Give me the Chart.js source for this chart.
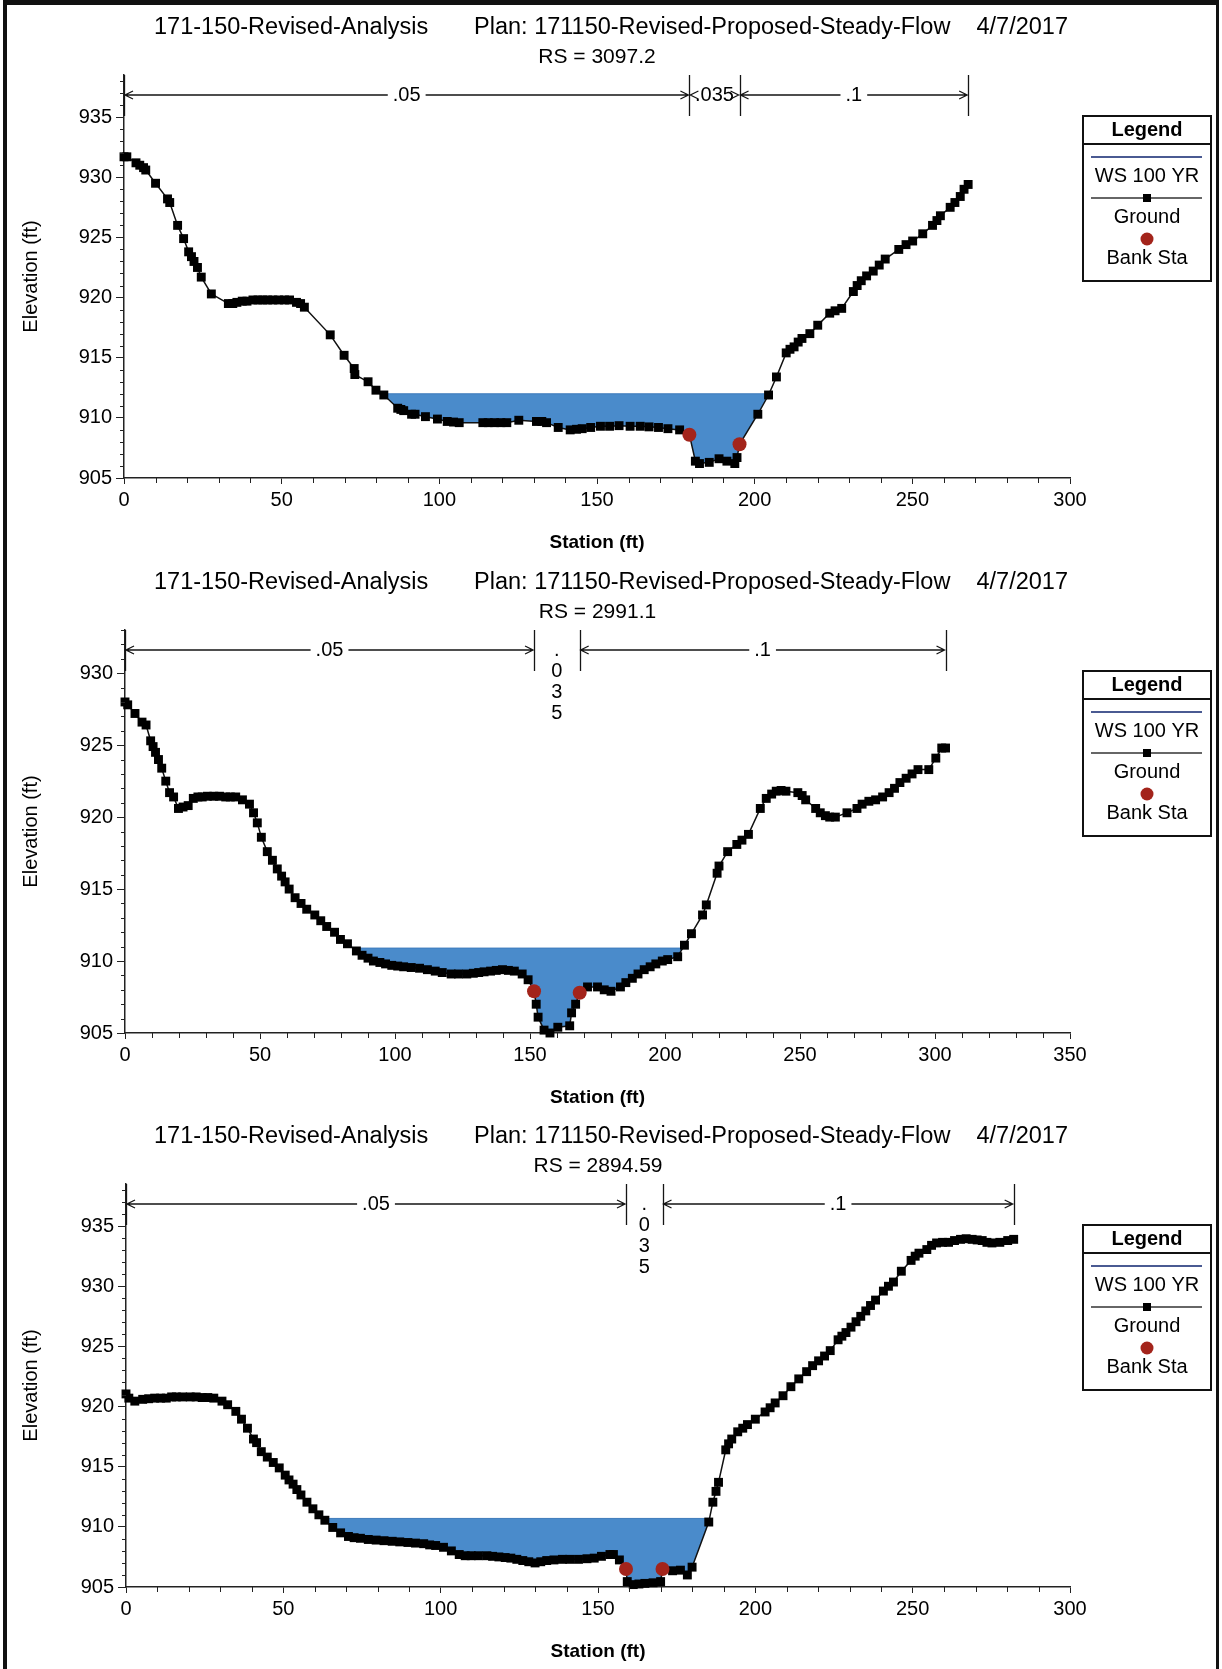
<!DOCTYPE html>
<html>
<head>
<meta charset="utf-8">
<script src="https://cdn.jsdelivr.net/npm/chart.js@4.4.1/dist/chart.umd.min.js"></script>
<style>
  body { margin: 0; background: #fff; }
  #page { position: relative; width: 1222px; height: 1669px; overflow: hidden; background: #fff; }
  #page canvas { position: absolute; left: 0; }
  #frame { position: absolute; left: 3px; top: 0; width: 1209px; height: 1700px;
           border-left: 4px solid #111; border-top: 5px solid #111; border-right: 3px solid #111;
           pointer-events: none; }
</style>
</head>
<body>
<div id="page">
  <canvas id="xs1" width="1222" height="555" style="top:0px"></canvas>
  <canvas id="xs2" width="1222" height="555" style="top:555px"></canvas>
  <canvas id="xs3" width="1222" height="555" style="top:1109px"></canvas>
  <div id="frame"></div>
</div>
<script>
const project = '171-150-Revised-Analysis';
const plan = 'Plan: 171150-Revised-Proposed-Steady-Flow';
const runDate = '4/7/2017';

const riverSta = ['3097.2', '2991.1', '2894.59'];
const wsElev = [912.0, 910.9, 910.7];       // WS 100 YR
const nValues = [0.05, 0.035, 0.1];         // left overbank, channel, right overbank
const xMax = [300, 350, 300];
const yMax = [938.5, 933, 938.5];

// station (ft), elevation (ft)
const ground1 = [
  [0, 931.7], [0.9, 931.7], [3.8, 931.2], [5.0, 931.0], [6.2, 930.8], [6.9, 930.6], [10.0, 929.5],
  [13.8, 928.2], [14.5, 927.9], [17.0, 926.0], [18.9, 924.9], [20.5, 923.8], [21.4, 923.4], [22.2, 923.0],
  [23.3, 922.5], [24.5, 921.7], [27.7, 920.3], [33.1, 919.5], [34.5, 919.5], [35.8, 919.6], [37.5, 919.7],
  [39.0, 919.7], [40.9, 919.8], [42.5, 919.8], [44.0, 919.8], [45.5, 919.8], [47.2, 919.8], [49.0, 919.8],
  [50.9, 919.8], [52.5, 919.8], [54.7, 919.6], [56.0, 919.5], [57.2, 919.2], [65.4, 916.9], [69.8, 915.2],
  [73.0, 914.1], [73.2, 913.6], [77.4, 913.0], [79.9, 912.3], [82.4, 911.9], [86.8, 910.8], [87.8, 910.7],
  [88.7, 910.6], [91.2, 910.3], [92.3, 910.3], [95.6, 910.1], [99.4, 909.9], [102.5, 909.7], [104.5, 909.65],
  [106.3, 909.6], [113.8, 909.6], [115.5, 909.6], [117.5, 909.6], [119.5, 909.6], [121.4, 909.6],
  [125.2, 909.8], [130.8, 909.7], [132.5, 909.7], [134.0, 909.6], [137.7, 909.2], [141.5, 909.0],
  [143.5, 909.05], [145.3, 909.1], [148.0, 909.2], [151.1, 909.3], [154.0, 909.3], [157.0, 909.35],
  [160.5, 909.3], [163.7, 909.3], [166.5, 909.25], [169.5, 909.2], [172.5, 909.1], [176.2, 909.0],
  [179.3, 908.6], [181.2, 906.4], [182.5, 906.2], [185.6, 906.3], [188.7, 906.6], [191.2, 906.4],
  [193.7, 906.2], [194.4, 906.7], [195.2, 907.8], [201.0, 910.3], [204.4, 911.9], [206.9, 913.4],
  [210.0, 915.4], [211.2, 915.7], [212.5, 915.9], [213.8, 916.3], [215.0, 916.6], [217.5, 917.0],
  [220.0, 917.7], [223.8, 918.7], [225.5, 918.9], [227.6, 919.1], [231.3, 920.5], [232.5, 921.0],
  [233.8, 921.4], [235.5, 921.8], [237.6, 922.2], [239.5, 922.7], [241.4, 923.2], [245.7, 924.0],
  [248.0, 924.4], [250.1, 924.7], [253.3, 925.3], [256.4, 926.0], [257.8, 926.4], [258.9, 926.8],
  [262.0, 927.5], [263.5, 927.9], [265.2, 928.4], [266.4, 929.0], [267.7, 929.4]
];
const bank1 = [[179.3, 908.6], [195.2, 907.8]];

const ground2 = [
  [0, 928.0], [1.0, 927.8], [3.7, 927.2], [6.3, 926.6], [7.8, 926.4], [9.5, 925.3], [10.4, 924.9],
  [11.3, 924.5], [12.4, 924.0], [13.6, 923.4], [15.1, 922.5], [16.5, 921.7], [18.0, 921.4], [19.8, 920.6],
  [21.5, 920.7], [23.4, 920.8], [25.3, 921.3], [27.0, 921.4], [28.6, 921.4], [30.5, 921.45], [32.9, 921.45],
  [35.0, 921.45], [37.3, 921.4], [39.0, 921.4], [41.0, 921.4], [43.5, 921.2], [46.1, 920.9], [47.6, 920.3],
  [49.0, 919.6], [50.5, 918.6], [52.7, 917.6], [54.6, 917.0], [56.4, 916.4], [58.0, 915.9], [59.3, 915.5],
  [60.8, 915.0], [63.0, 914.4], [65.2, 914.0], [67.3, 913.6], [70.3, 913.2], [72.5, 912.8], [74.7, 912.4],
  [77.6, 912.0], [79.8, 911.5], [82.4, 911.2], [85.7, 910.7], [87.8, 910.4], [90.0, 910.2], [92.0, 910.0],
  [94.4, 909.9], [96.5, 909.8], [98.8, 909.7], [101.0, 909.65], [103.2, 909.6], [106.0, 909.55],
  [109.1, 909.5], [112.0, 909.4], [114.9, 909.3], [117.5, 909.2], [120.8, 909.1], [123.5, 909.1],
  [126.6, 909.1], [129.0, 909.15], [131.0, 909.2], [133.0, 909.25], [135.4, 909.3], [137.5, 909.35],
  [139.8, 909.4], [142.0, 909.35], [144.2, 909.3], [147.1, 909.1], [149.3, 908.7], [151.5, 907.9],
  [152.3, 907.0], [153.0, 906.1], [155.2, 905.2], [157.4, 905.0], [160.3, 905.4], [164.7, 905.5],
  [165.4, 906.4], [166.9, 907.0], [168.4, 907.8], [171.3, 908.2], [175.0, 908.2], [177.5, 908.0],
  [180.0, 907.9], [183.5, 908.2], [185.5, 908.5], [187.9, 908.8], [190.0, 909.1], [192.3, 909.4],
  [194.5, 909.6], [196.6, 909.8], [199.0, 910.0], [201.0, 910.1], [204.7, 910.3], [207.2, 911.1],
  [209.8, 911.9], [213.9, 913.2], [215.3, 913.9], [219.3, 916.1], [220.0, 916.6], [223.2, 917.6],
  [226.6, 918.1], [228.5, 918.4], [230.9, 918.8], [235.3, 920.6], [237.5, 921.3], [239.5, 921.6],
  [241.2, 921.8], [243.0, 921.85], [244.8, 921.8], [249.2, 921.7], [250.8, 921.5], [252.1, 921.2],
  [255.8, 920.6], [257.5, 920.3], [259.4, 920.1], [261.0, 920.0], [263.1, 920.0], [267.4, 920.3],
  [271.1, 920.6], [273.0, 920.9], [275.5, 921.1], [278.0, 921.2], [280.6, 921.4], [283.0, 921.7],
  [285.0, 922.0], [287.0, 922.4], [289.3, 922.7], [291.5, 923.0], [293.7, 923.3], [297.7, 923.3],
  [300.3, 924.1], [302.5, 924.8], [303.9, 924.8]
];
const bank2 = [[151.5, 907.9], [168.4, 907.8]];

const ground3 = [
  [0, 921.05], [0.9, 920.7], [2.8, 920.45], [5.3, 920.6], [7.2, 920.65], [9.1, 920.7], [11.0, 920.7],
  [12.8, 920.7], [14.5, 920.8], [16.0, 920.8], [18.0, 920.8], [20.4, 920.8], [22.3, 920.8], [24.2, 920.75],
  [26.0, 920.75], [27.9, 920.7], [30.5, 920.45], [32.3, 920.15], [34.9, 919.6], [36.7, 918.95],
  [38.6, 918.2], [40.5, 917.3], [41.5, 917.0], [43.0, 916.25], [44.9, 915.8], [46.8, 915.35],
  [48.7, 914.9], [50.6, 914.3], [51.8, 913.9], [53.1, 913.55], [54.3, 913.1], [55.6, 912.65],
  [57.5, 912.05], [59.4, 911.5], [61.3, 911.0], [63.2, 910.55], [65.7, 909.95], [68.2, 909.5],
  [70.7, 909.2], [72.5, 909.1], [74.5, 909.05], [77.0, 908.95], [79.5, 908.9], [82.0, 908.85],
  [84.6, 908.8], [87.0, 908.75], [89.6, 908.7], [92.0, 908.65], [94.6, 908.6], [96.5, 908.5],
  [98.4, 908.45], [100.9, 908.3], [103.4, 908.0], [105.9, 907.7], [107.8, 907.6], [109.7, 907.6],
  [112.0, 907.6], [114.7, 907.6], [116.5, 907.55], [118.5, 907.5], [120.5, 907.45], [122.3, 907.4],
  [124.2, 907.3], [126.1, 907.2], [128.0, 907.1], [130.0, 907.0], [131.8, 907.1], [133.7, 907.2],
  [136.0, 907.25], [138.7, 907.3], [141.0, 907.3], [143.8, 907.3], [146.5, 907.35], [148.8, 907.4],
  [151.1, 907.55], [153.8, 907.7], [154.9, 907.7], [156.8, 907.25], [158.9, 906.5], [159.3, 905.45],
  [161.2, 905.2], [163.0, 905.25], [164.9, 905.3], [167.5, 905.35], [169.9, 905.45], [170.5, 906.5],
  [173.7, 906.35], [176.2, 906.4], [178.4, 906.0], [179.9, 906.65], [185.2, 910.4], [186.5, 912.05],
  [187.5, 912.95], [188.3, 913.7], [190.6, 916.4], [191.5, 916.9], [192.5, 917.3], [194.4, 917.9],
  [196.0, 918.2], [197.5, 918.5], [200.0, 918.95], [203.1, 919.55], [204.7, 919.9], [206.3, 920.3],
  [208.8, 920.9], [211.3, 921.65], [213.8, 922.3], [216.3, 922.9], [218.2, 923.4], [220.1, 923.8],
  [222.0, 924.2], [223.8, 924.65], [226.3, 925.55], [227.5, 925.85], [228.8, 926.15], [230.4, 926.6],
  [232.0, 927.05], [233.5, 927.5], [235.1, 927.95], [236.6, 928.4], [238.2, 928.85], [240.7, 929.6],
  [242.3, 930.0], [243.9, 930.35], [246.4, 931.25], [249.5, 932.15], [250.8, 932.5], [252.0, 932.75],
  [254.5, 933.05], [256.0, 933.4], [257.6, 933.6], [259.5, 933.65], [261.4, 933.65], [263.3, 933.8],
  [265.2, 933.9], [267.0, 933.95], [268.9, 933.9], [270.5, 933.85], [272.1, 933.8], [273.6, 933.65],
  [275.2, 933.6], [277.7, 933.65], [280.2, 933.8], [282.1, 933.9]
];
const bank3 = [[158.9, 906.5], [170.5, 906.5]];

const FONT = "'Liberation Sans', Arial, Helvetica, sans-serif";
Chart.defaults.font.family = FONT;
Chart.defaults.color = '#000';

// where the water surface meets the ground on each side of the channel
function wsLimits(ground, banks, ws) {
  let i = ground.findIndex(p => p[0] >= banks[0][0]);
  while (i > 0 && ground[i - 1][1] < ws) i--;
  const a = ground[i - 1], b = ground[i];
  const xl = a[0] + (ws - a[1]) * (b[0] - a[0]) / (b[1] - a[1]);
  let j = ground.findIndex(p => p[0] >= banks[1][0]);
  while (j < ground.length - 1 && ground[j + 1][1] < ws) j++;
  const c = ground[j], d = ground[j + 1];
  const xr = c[0] + (ws - c[1]) * (d[0] - c[0]) / (d[1] - c[1]);
  return [xl, xr];
}

// RS line, minor ticks, manning's n bar and the boxed legend
const hecPlugin = {
  id: 'hec',
  afterDraw(chart, args, opts) {
    const ctx = chart.ctx;
    const {top, bottom, left, right} = chart.chartArea;
    const xs = chart.scales.x, ys = chart.scales.y;
    ctx.save();

    ctx.fillStyle = '#000';
    ctx.textAlign = 'center';
    ctx.textBaseline = 'middle';
    ctx.font = '21px ' + FONT;
    ctx.fillText('RS = ' + opts.rs, (left + right) / 2, top - 18);

    ctx.strokeStyle = '#222';
    ctx.lineWidth = 1;
    ctx.beginPath();
    for (let v = xs.min + 10; v < xs.max; v += 10) {
      if (v % 50 === 0) continue;
      const px = Math.round(xs.getPixelForValue(v)) + 0.5;
      ctx.moveTo(px, bottom);
      ctx.lineTo(px, bottom + 5);
    }
    for (let v = ys.min + 1; v <= ys.max; v += 1) {
      if (v % 5 === 0) continue;
      const py = Math.round(ys.getPixelForValue(v)) + 0.5;
      ctx.moveTo(left, py);
      ctx.lineTo(left - 4, py);
    }
    ctx.stroke();

    // n values
    const brk = opts.breaks;
    const ya = top + 20;
    ctx.strokeStyle = '#151515';
    ctx.lineWidth = 1.3;
    ctx.font = '20px ' + FONT;
    ctx.beginPath();
    brk.forEach(b => {
      const px = Math.round(xs.getPixelForValue(b)) + 0.5;
      ctx.moveTo(px, top);
      ctx.lineTo(px, top + 41);
    });
    ctx.stroke();
    for (let i = 0; i < brk.length - 1; i++) {
      const x0 = xs.getPixelForValue(brk[i]) + 1, x1 = xs.getPixelForValue(brk[i + 1]) - 1;
      const label = String(nValues[i]).replace(/^0/, '');
      const tw = ctx.measureText(label).width;
      const mid = (x0 + x1) / 2;
      if (x1 - x0 < tw + 8) {
        [...label].forEach((ch, k) => ctx.fillText(ch, mid, ya + k * 21));
        continue;
      }
      ctx.beginPath();
      if (x1 - x0 > tw + 30) {
        ctx.moveTo(x0, ya); ctx.lineTo(mid - tw / 2 - 5, ya);
        ctx.moveTo(mid + tw / 2 + 5, ya); ctx.lineTo(x1, ya);
      }
      ctx.moveTo(x0 + 8, ya - 4); ctx.lineTo(x0, ya); ctx.lineTo(x0 + 8, ya + 4);
      ctx.moveTo(x1 - 8, ya - 4); ctx.lineTo(x1, ya); ctx.lineTo(x1 - 8, ya + 4);
      ctx.stroke();
      ctx.fillText(label, mid, ya);
    }

    // legend box
    const ds = chart.data.datasets;
    const bx = 1083, bw = 128, by = top + 41, bh = 165, cx = bx + bw / 2;
    ctx.lineWidth = 2;
    ctx.strokeStyle = '#111';
    ctx.strokeRect(bx, by, bw, bh);
    ctx.beginPath();
    ctx.moveTo(bx, by + 28); ctx.lineTo(bx + bw, by + 28);
    ctx.stroke();
    ctx.font = 'bold 20px ' + FONT;
    ctx.fillText('Legend', cx, by + 14);
    ctx.font = '20px ' + FONT;

    ctx.strokeStyle = '#4a5a92';
    ctx.lineWidth = 2;
    ctx.beginPath(); ctx.moveTo(bx + 8, by + 41); ctx.lineTo(bx + bw - 9, by + 41); ctx.stroke();
    ctx.fillText(ds[1].label, cx, by + 60);

    ctx.strokeStyle = '#333';
    ctx.lineWidth = 1.3;
    ctx.beginPath(); ctx.moveTo(bx + 8, by + 82); ctx.lineTo(bx + bw - 9, by + 82); ctx.stroke();
    ctx.fillRect(cx - 4, by + 78, 8, 8);
    ctx.fillText(ds[0].label, cx, by + 101);

    ctx.fillStyle = ds[2].pointBackgroundColor;
    ctx.beginPath(); ctx.arc(cx, by + 123, 6.5, 0, Math.PI * 2); ctx.fill();
    ctx.fillStyle = '#000';
    ctx.fillText(ds[2].label, cx, by + 142);

    ctx.restore();
  }
};

function makeChart(id, k, ground, banks, axisLeft) {
  const ws = wsElev[k];
  const [xl, xr] = wsLimits(ground, banks, ws);
  const breaks = [ground[0][0], banks[0][0], banks[1][0], ground[ground.length - 1][0]];
  new Chart(document.getElementById(id), {
    type: 'scatter',
    data: {
      datasets: [{
        label: 'Ground',
        data: ground.map(p => ({x: p[0], y: p[1]})),
        showLine: true,
        borderColor: '#111',
        borderWidth: 1.5,
        pointStyle: 'rect',
        pointRadius: 6.3,
        pointBackgroundColor: '#000',
        pointBorderWidth: 0,
        clip: false,
        order: 2
      }, {
        label: 'WS 100 YR',
        data: [{x: xl, y: ws}, {x: xr, y: ws}],
        showLine: true,
        borderColor: '#3f7cbd',
        borderWidth: 1,
        pointRadius: 0,
        backgroundColor: '#4a8bcb',
        fill: {target: 0},
        order: 3
      }, {
        label: 'Bank Sta',
        data: banks.map(p => ({x: p[0], y: p[1]})),
        pointStyle: 'circle',
        pointRadius: 7,
        pointBackgroundColor: '#a3241b',
        pointBorderWidth: 0,
        clip: false,
        order: 1
      }]
    },
    options: {
      responsive: false,
      animation: false,
      events: [],
      layout: {padding: 0},
      plugins: {
        legend: {display: false},
        tooltip: {enabled: false},
        title: {
          display: true,
          text: project + '       ' + plan + '    ' + runDate,
          font: {size: 23.5, weight: 'normal'},
          color: '#000',
          padding: {top: 13, bottom: 33.8}
        },
        hec: {breaks, rs: riverSta[k]}
      },
      scales: {
        x: {
          type: 'linear',
          min: 0,
          max: xMax[k],
          afterFit: s => { s.height = 77; },
          ticks: {stepSize: 50, autoSkip: false, maxRotation: 0, padding: 4, font: {size: 20}, color: '#000'},
          grid: {drawOnChartArea: false, tickLength: 6, color: '#222', tickWidth: 1},
          border: {color: '#222', width: 1.5},
          title: {display: true, text: 'Station (ft)', font: {size: 19, weight: 'bold'}, color: '#000', padding: {top: 0, bottom: 1}}
        },
        y: {
          min: 905,
          max: yMax[k],
          afterFit: s => { s.width = axisLeft; },
          ticks: {stepSize: 5, autoSkip: false, padding: 4, font: {size: 20}, color: '#000',
                  callback: v => (v % 5 === 0 ? String(v) : null)},
          grid: {drawOnChartArea: false, tickLength: 8, color: '#222', tickWidth: 1},
          border: {color: '#222', width: 1.5},
          title: {display: true, text: 'Elevation (ft)', font: {size: 20}, color: '#000', padding: {top: 19, bottom: 0}}
        },
        // empty strip on the right that holds the legend box
        side: {
          type: 'linear',
          position: 'right',
          afterFit: s => { s.width = 152; },
          ticks: {display: false},
          grid: {display: false},
          border: {display: false}
        }
      }
    },
    plugins: [hecPlugin]
  });
}

makeChart('xs1', 0, ground1, bank1, 124);
makeChart('xs2', 1, ground2, bank2, 125);
makeChart('xs3', 2, ground3, bank3, 126);
</script>
</body>
</html>
